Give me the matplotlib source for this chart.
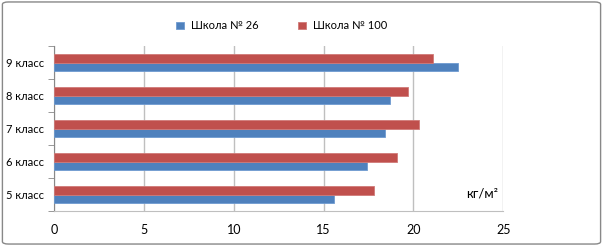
import numpy as np
import matplotlib.pyplot as plt
from matplotlib.patches import FancyBboxPatch

# data
classes = ["5 класс", "6 класс", "7 класс", "8 класс", "9 класс"]
school_26 = [15.6, 17.4, 18.4, 18.7, 22.5]
school_100 = [17.8, 19.1, 20.3, 19.7, 21.1]
series_names = ["Школа № 26", "Школа № 100"]
x_ticks = [0, 5, 10, 15, 20, 25]

plt.rcParams["font.family"] = ["Lato", "DejaVu Sans"]

fig = plt.figure(figsize=(6.03, 2.46), dpi=100)
ax = fig.add_axes([0.0896, 0.142, 0.745, 0.671])

y = np.arange(len(classes))
h = 0.27
ax.barh(y - h / 2, school_26, height=h, color="#4F81BD", edgecolor="#6F9BD0",
        linewidth=0.6, label=series_names[0], zorder=3)
ax.barh(y + h / 2, school_100, height=h, color="#C0504D", edgecolor="#D07A78",
        linewidth=0.6, label=series_names[1], zorder=3)

ax.set_xlim(0, 25)
ax.set_ylim(-0.5, len(classes) - 0.5)
ax.set_xticks(x_ticks)
ax.set_yticks(y)
ax.set_yticklabels(classes)
ax.set_yticks(np.arange(-0.5, len(classes), 1), minor=True)
ax.tick_params(axis="y", which="major", length=0, pad=7, labelsize=8)
ax.tick_params(axis="y", which="minor", length=4, color="#888888", direction="out")
ax.tick_params(axis="x", length=0, pad=9, labelsize=9)

ax.grid(axis="x", color="#BFBFBF", linewidth=1, zorder=0)
for s in ["top", "right"]:
    ax.spines[s].set_visible(False)
ax.spines["left"].set_color("#888888")
ax.spines["bottom"].set_color("#BFBFBF")

ax.text(0.988 * 25, 0.02, "кг/м²", ha="right", va="center", fontsize=9.5)

fig.legend(loc="center", bbox_to_anchor=(0.467, 0.895), ncol=2, frameon=False,
           fontsize=8, handlelength=0.7, handleheight=0.7, columnspacing=3.6,
           handletextpad=0.6)

border = FancyBboxPatch((0.004, 0.008), 0.992, 0.984, boxstyle="round,pad=0,rounding_size=0.01",
                        transform=fig.transFigure, facecolor="none",
                        edgecolor="#888888", linewidth=1)
fig.patches.append(border)

fig.savefig("out.png", dpi=100)
